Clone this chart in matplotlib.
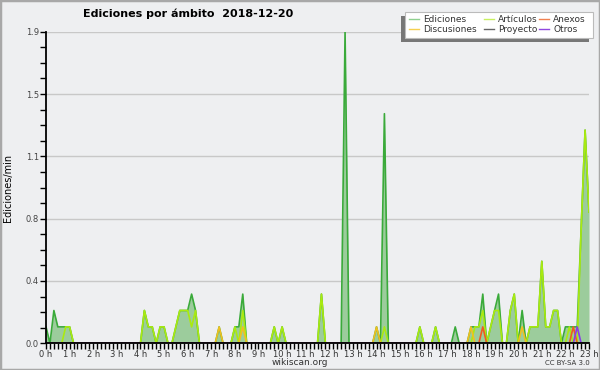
import numpy as np
import matplotlib
matplotlib.use('Agg')
import matplotlib.pyplot as plt
from matplotlib.patches import Rectangle
from matplotlib.lines import Line2D

# edits per minute, one value per 10 minute bin, 0:00 .. 23:00 (one row per hour)
ediciones = [
    0.1, 0, 0.2, 0.1, 0.1, 0.1,
    0.1, 0, 0, 0, 0, 0,
    0, 0, 0, 0, 0, 0,
    0, 0, 0, 0, 0, 0,
    0, 0.2, 0.1, 0.1, 0, 0.1,
    0.1, 0, 0, 0.1, 0.2, 0.2,
    0.2, 0.3, 0.2, 0, 0, 0,
    0, 0, 0.1, 0, 0, 0,
    0.1, 0.1, 0.3, 0, 0, 0,
    0, 0, 0, 0, 0.1, 0,
    0.1, 0, 0, 0, 0, 0,
    0, 0, 0, 0, 0.3, 0,
    0, 0, 0, 0, 1.9, 0,
    0, 0, 0, 0, 0, 0,
    0.1, 0, 1.4, 0, 0, 0,
    0, 0, 0, 0, 0, 0.1,
    0, 0, 0, 0.1, 0, 0,
    0, 0, 0.1, 0, 0, 0,
    0.1, 0.1, 0.1, 0.3, 0, 0.1,
    0.2, 0.3, 0, 0, 0.2, 0.3,
    0, 0.2, 0, 0.1, 0.1, 0.1,
    0.5, 0.1, 0.1, 0.2, 0.2, 0,
    0.1, 0.1, 0.1, 0.1, 0.7, 1.3,
    0.8,
]
articulos = [
    0, 0, 0, 0, 0, 0.1,
    0.1, 0, 0, 0, 0, 0,
    0, 0, 0, 0, 0, 0,
    0, 0, 0, 0, 0, 0,
    0, 0.2, 0.1, 0.1, 0, 0.1,
    0.1, 0, 0, 0.1, 0.2, 0.2,
    0.2, 0.1, 0.2, 0, 0, 0,
    0, 0, 0, 0, 0, 0,
    0.1, 0, 0.2, 0, 0, 0,
    0, 0, 0, 0, 0.1, 0,
    0.1, 0, 0, 0, 0, 0,
    0, 0, 0, 0, 0.3, 0,
    0, 0, 0, 0, 0, 0,
    0, 0, 0, 0, 0, 0,
    0, 0, 0.1, 0, 0, 0,
    0, 0, 0, 0, 0, 0.1,
    0, 0, 0, 0.1, 0, 0,
    0, 0, 0, 0, 0, 0,
    0, 0.1, 0.1, 0.2, 0, 0.1,
    0.2, 0.2, 0, 0, 0.2, 0.3,
    0, 0, 0, 0.1, 0.1, 0.1,
    0.5, 0.1, 0.1, 0.2, 0.2, 0,
    0, 0.1, 0, 0, 0.7, 1.3,
    0.8,
]
discusiones = [
    0, 0, 0, 0, 0, 0,
    0, 0, 0, 0, 0, 0,
    0, 0, 0, 0, 0, 0,
    0, 0, 0, 0, 0, 0,
    0, 0, 0, 0, 0, 0,
    0, 0, 0, 0, 0, 0,
    0, 0, 0, 0, 0, 0,
    0, 0, 0.1, 0, 0, 0,
    0, 0, 0.1, 0, 0, 0,
    0, 0, 0, 0, 0, 0,
    0, 0, 0, 0, 0, 0,
    0, 0, 0, 0, 0, 0,
    0, 0, 0, 0, 0, 0,
    0, 0, 0, 0, 0, 0,
    0.1, 0, 0, 0, 0, 0,
    0, 0, 0, 0, 0, 0,
    0, 0, 0, 0, 0, 0,
    0, 0, 0, 0, 0, 0,
    0.1, 0, 0, 0, 0, 0,
    0, 0, 0, 0, 0, 0,
    0, 0.1, 0, 0, 0, 0,
    0, 0, 0, 0, 0, 0,
    0, 0, 0, 0, 0, 0,
    0,
]
anexos = [0] * 111 + [0.1] + [0] * 22 + [0.1] + [0] * 4
proyecto = [0] * 139
otros = [0] * 135 + [0.1] + [0] * 3

hours = np.arange(len(ediciones)) / 6.0

bg = '#eeeff1'
fig = plt.figure(figsize=(6, 3.7), dpi=100, facecolor=bg)
ax = fig.add_axes([0.0767, 0.0722, 0.905, 0.842])
ax.set_facecolor(bg)

ax.fill_between(hours, ediciones, color='#9ccc9c', lw=0, zorder=2)
ax.plot(hours, ediciones, color='#3aaa3a', lw=1.2, zorder=3)
ax.plot(hours, articulos, color='#aaea10', lw=1.2, zorder=4)
ax.plot(hours, discusiones, color='#f0c020', lw=1.2, zorder=5)
ax.plot(hours, proyecto, color='#555555', lw=1.2, zorder=5)
ax.plot(hours, anexos, color='#f05a20', lw=1.2, zorder=6)
ax.plot(hours, otros, color='#8a3ee6', lw=1.2, zorder=6)

ax.set_xlim(0, 23)
ax.set_ylim(0, 1.9)
yt = np.linspace(0, 1.9, 6)
ax.set_yticks(yt)
ax.set_yticklabels(['%.1f' % v for v in yt])
ax.set_yticks(np.arange(0, 1.9, 0.095), minor=True)
ax.set_xticks(range(24))
ax.set_xticklabels(['%d h' % h for h in range(24)])
ax.set_xticks(np.arange(0, 23.01, 1 / 6.0), minor=True)
ax.grid(True, axis='y', which='major', color='#c8c8c8', lw=1, zorder=1)
ax.set_axisbelow(True)

for s in ['top', 'right']:
    ax.spines[s].set_visible(False)
for s in ['left', 'bottom']:
    ax.spines[s].set_linewidth(1.3)
    ax.spines[s].set_zorder(10)
ax.tick_params(axis='both', which='both', direction='out', length=4, width=1, colors='black')
ax.tick_params(axis='y', labelsize=6, labelcolor='#444444', pad=1)
ax.tick_params(axis='x', labelsize=6, labelcolor='#333333', pad=0.5)
ax.set_ylabel('Ediciones/min', fontsize=7, labelpad=9)

fig.text(0.314, 0.962, 'Ediciones por ámbito  2018-12-20', ha='center', va='center',
         fontsize=8, fontweight='bold')
fig.text(0.5, 0.019, 'wikiscan.org', ha='center', va='center', fontsize=6.5, color='#333333')
fig.text(0.983, 0.019, 'CC BY-SA 3.0', ha='right', va='center', fontsize=5, color='#333333')

# legend box with shadow
fig.add_artist(Rectangle((401 / 600, 1 - 42 / 370), 188 / 600, 26 / 370,
                         transform=fig.transFigure, facecolor='#777777', edgecolor='none'))
fig.add_artist(Rectangle((405 / 600, 1 - 38 / 370), 188 / 600, 26 / 370,
                         transform=fig.transFigure, facecolor='white', edgecolor='#bbbbbb', lw=0.8))
entries = [('Ediciones', '#8fd08f', 409, 19), ('Discusiones', '#f5d050', 409, 29),
           ('Artículos', '#c8f060', 484, 19), ('Proyecto', '#666666', 484, 29),
           ('Anexos', '#f08050', 539, 19), ('Otros', '#9048e0', 539, 29)]
for name, col, px, py in entries:
    y = 1 - py / 370
    fig.add_artist(Line2D([px / 600, (px + 10) / 600], [y, y], transform=fig.transFigure,
                          color=col, lw=1))
    fig.text((px + 14) / 600, y, name, ha='left', va='center', fontsize=6.5, color='#333333')

fig.add_artist(Rectangle((0, 0), 1, 1, transform=fig.transFigure, facecolor='none',
                         edgecolor='#a8a8a8', lw=2.5))

fig.savefig('out.png', dpi=100, facecolor=bg)
